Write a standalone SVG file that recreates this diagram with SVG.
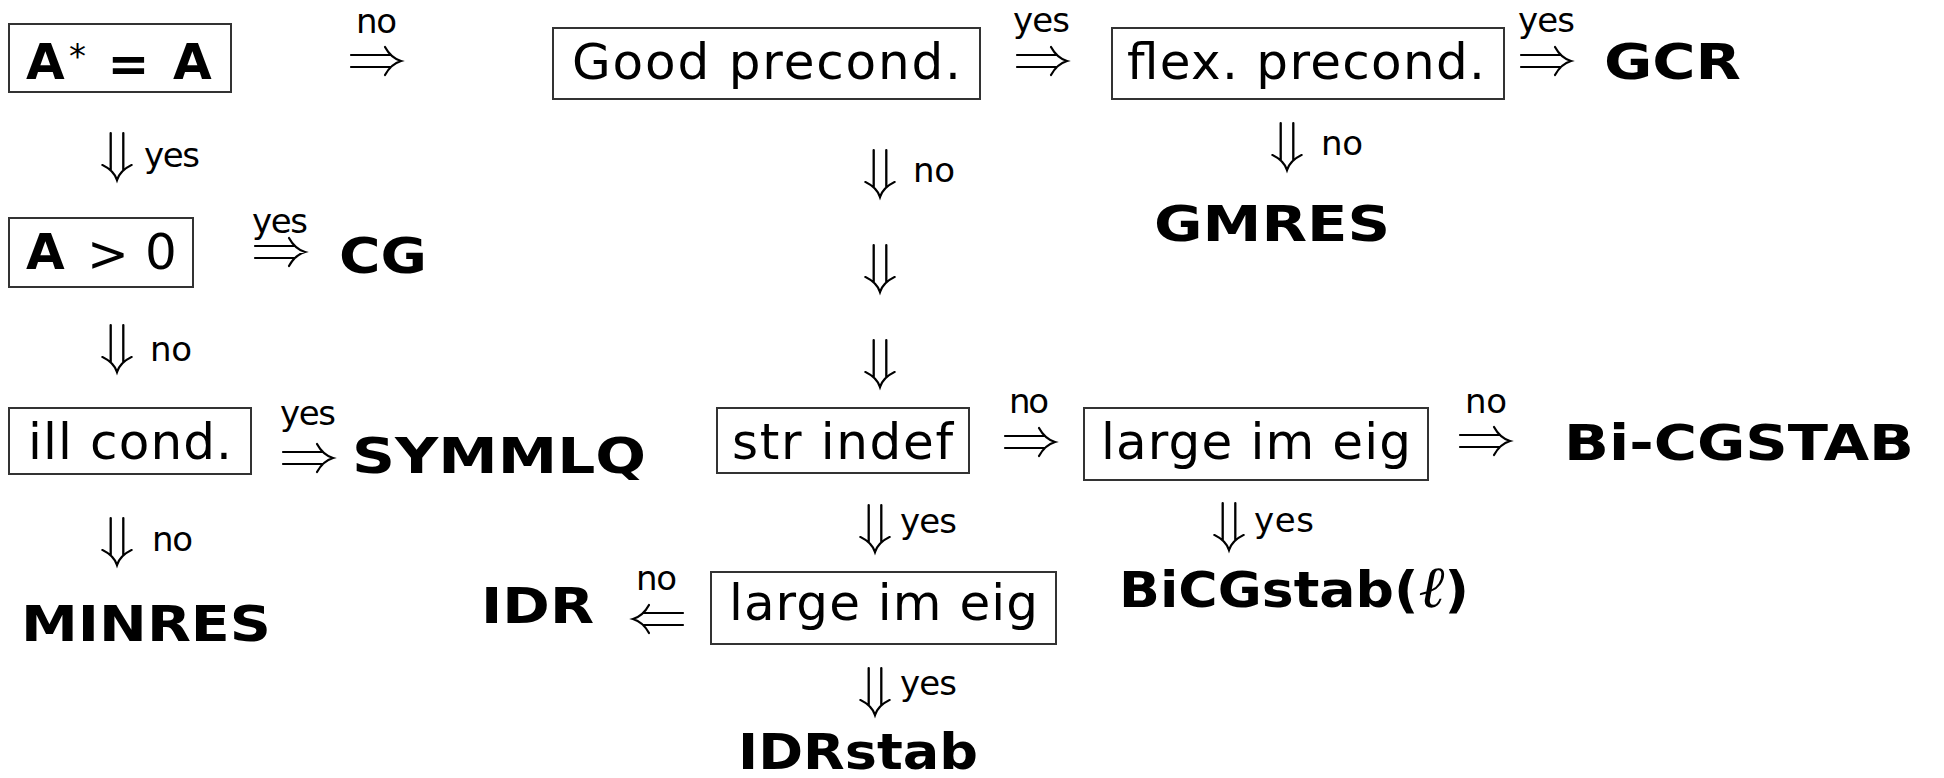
<svg xmlns="http://www.w3.org/2000/svg" xmlns:xlink="http://www.w3.org/1999/xlink" width="1944" height="778" viewBox="0 0 1944 778">
<style>
.box{fill:none;stroke:#333;stroke-width:2}
.bt{font-family:"DejaVu Sans",sans-serif;font-size:50px;fill:#000}
.bn{font-family:"DejaVu Sans",sans-serif;font-size:50px;font-weight:bold;fill:#000}
.lbl{font-family:"DejaVu Sans",sans-serif;font-size:34px;fill:#000}
.arr{fill:none;stroke:#000;stroke-width:2.2;stroke-linecap:round}
</style>
<defs>
<path id="dar" class="arr" d="M0,-6 H40 M0,6 H40 M34,-14 Q40,-3 50,0 Q40,3 34,14"/>
</defs>
<rect width="1944" height="778" fill="#fff"/>
<g id="n-aeqa">
<rect class="box" x="9" y="24" width="222" height="68"/>
<text class="bn" x="26" y="79">A</text>
<text class="lbl" x="69" y="68" font-size="36">*</text>
<text class="bn" x="128.5" y="81" text-anchor="middle">=</text>
<text class="bn" x="173" y="79">A</text>
</g>
<g id="n-apos">
<rect class="box" x="9" y="218" width="184" height="69"/>
<text class="bn" x="26" y="269">A</text>
<text class="bt" x="108" y="271" text-anchor="middle">&gt;</text>
<text class="bt" x="161" y="269" text-anchor="middle" font-size="52">0</text>
</g>
<g id="n-ill">
<rect class="box" x="9" y="408" width="242" height="66"/>
<text class="bt" x="28" y="459" textLength="204">ill cond.</text>
</g>
<g id="n-good">
<rect class="box" x="553" y="28" width="427" height="71"/>
<text class="bt" x="572" y="79" textLength="389">Good precond.</text>
</g>
<g id="n-flex">
<rect class="box" x="1112" y="28" width="392" height="71"/>
<text class="bt" x="1127" y="79" textLength="358">flex. precond.</text>
</g>
<g id="n-str">
<rect class="box" x="717" y="408" width="252" height="65"/>
<text class="bt" x="732" y="459" textLength="221">str indef</text>
</g>
<g id="n-large1">
<rect class="box" x="1084" y="408" width="344" height="72"/>
<text class="bt" x="1101" y="459" textLength="310">large im eig</text>
</g>
<g id="n-large2">
<rect class="box" x="711" y="572" width="345" height="72"/>
<text class="bt" x="729" y="620" textLength="309">large im eig</text>
</g>
<g id="n-cg"><text class="bn" x="339" y="273" textLength="88" lengthAdjust="spacingAndGlyphs">CG</text></g>
<g id="n-gcr"><text class="bn" x="1604" y="79" textLength="137" lengthAdjust="spacingAndGlyphs">GCR</text></g>
<g id="n-gmres"><text class="bn" x="1154" y="241" textLength="236" lengthAdjust="spacingAndGlyphs">GMRES</text></g>
<g id="n-symmlq"><text class="bn" x="352" y="473" textLength="294" lengthAdjust="spacingAndGlyphs">SYMMLQ</text></g>
<g id="n-minres"><text class="bn" x="21" y="641" textLength="250" lengthAdjust="spacingAndGlyphs">MINRES</text></g>
<g id="n-bicgstab"><text class="bn" x="1564" y="460" textLength="350" lengthAdjust="spacingAndGlyphs">Bi-CGSTAB</text></g>
<g id="n-bicgstabl"><text class="bn" x="1119" y="607" textLength="350" lengthAdjust="spacingAndGlyphs">BiCGstab(<tspan font-family="DejaVu Serif" font-weight="normal" font-style="italic" font-size="58">ℓ</tspan>)</text></g>
<g id="n-idr"><text class="bn" x="481" y="623" textLength="113" lengthAdjust="spacingAndGlyphs">IDR</text></g>
<g id="n-idrstab"><text class="bn" x="738" y="769" textLength="240" lengthAdjust="spacingAndGlyphs">IDRstab</text></g>
<g id="connectors">
<use xlink:href="#dar" transform="translate(351,61)"/>
<use xlink:href="#dar" transform="translate(255,252)"/>
<use xlink:href="#dar" transform="translate(283,458)"/>
<use xlink:href="#dar" transform="translate(1017,61)"/>
<use xlink:href="#dar" transform="translate(1521,61)"/>
<use xlink:href="#dar" transform="translate(1005,442)"/>
<use xlink:href="#dar" transform="translate(1460,441)"/>
<use xlink:href="#dar" transform="translate(683,619) rotate(180)"/>
<use xlink:href="#dar" transform="translate(117,133) rotate(90) scale(0.94,1.05)"/>
<use xlink:href="#dar" transform="translate(117,325) rotate(90) scale(0.94,1.05)"/>
<use xlink:href="#dar" transform="translate(117,518) rotate(90) scale(0.94,1.05)"/>
<use xlink:href="#dar" transform="translate(880,150) rotate(90) scale(0.94,1.05)"/>
<use xlink:href="#dar" transform="translate(880,245) rotate(90) scale(0.94,1.05)"/>
<use xlink:href="#dar" transform="translate(880,340) rotate(90) scale(0.94,1.05)"/>
<use xlink:href="#dar" transform="translate(1287,123) rotate(90) scale(0.94,1.05)"/>
<use xlink:href="#dar" transform="translate(875,505) rotate(90) scale(0.94,1.05)"/>
<use xlink:href="#dar" transform="translate(875,668) rotate(90) scale(0.94,1.05)"/>
<use xlink:href="#dar" transform="translate(1229,503) rotate(90) scale(0.94,1.05)"/>
<text class="lbl" x="356" y="33" textLength="41">no</text>
<text class="lbl" x="144" y="167" textLength="56">yes</text>
<text class="lbl" x="252" y="233" textLength="56">yes</text>
<text class="lbl" x="150" y="361" textLength="42">no</text>
<text class="lbl" x="280" y="425" textLength="56">yes</text>
<text class="lbl" x="152" y="551" textLength="41">no</text>
<text class="lbl" x="1013" y="32" textLength="57">yes</text>
<text class="lbl" x="1518" y="32" textLength="57">yes</text>
<text class="lbl" x="913" y="182" textLength="42">no</text>
<text class="lbl" x="1321" y="155" textLength="42">no</text>
<text class="lbl" x="1009" y="413" textLength="40">no</text>
<text class="lbl" x="1465" y="413" textLength="42">no</text>
<text class="lbl" x="900" y="533" textLength="57">yes</text>
<text class="lbl" x="1254" y="532" textLength="60">yes</text>
<text class="lbl" x="636" y="590" textLength="41">no</text>
<text class="lbl" x="900" y="695" textLength="57">yes</text>
</g>
</svg>
